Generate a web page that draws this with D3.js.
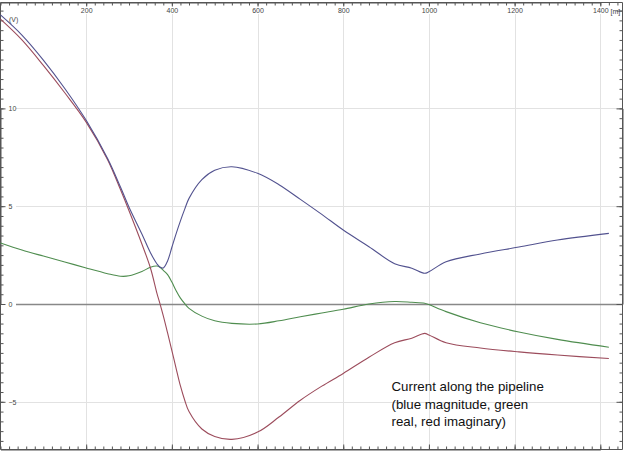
<!DOCTYPE html>
<html>
<head>
<meta charset="utf-8">
<script src="https://cdn.jsdelivr.net/npm/d3@7"></script>
<style>
  html, body { margin: 0; padding: 0; background: #fff; }
  svg { display: block; }
</style>
</head>
<body>
<svg id="chart" width="628" height="451"></svg>
<script>
// ---- data ----
const distance  = [0, 50, 100, 150, 200, 250, 280, 300, 330, 350, 365, 372, 380, 390, 400, 410, 420, 430, 440, 470, 500, 540, 600, 650, 700, 750, 800, 860, 920, 960, 990, 1000, 1040, 1120, 1210, 1300, 1420];
const magnitude = [14.78, 13.75, 12.47, 11.02, 9.39, 7.44, 5.98, 4.95, 3.58, 2.62, 2.06, 1.89, 1.84, 2.20, 2.90, 3.60, 4.25, 4.85, 5.40, 6.36, 6.84, 7.02, 6.68, 6.10, 5.35, 4.58, 3.78, 2.93, 2.06, 1.83, 1.57, 1.65, 2.16, 2.56, 2.91, 3.27, 3.61];
const realPart  = [3.12, 2.76, 2.45, 2.15, 1.84, 1.55, 1.42, 1.44, 1.66, 1.88, 1.94, 1.88, 1.72, 1.50, 1.12, 0.68, 0.30, 0.02, -0.22, -0.62, -0.86, -0.99, -1.02, -0.86, -0.65, -0.46, -0.27, 0.00, 0.13, 0.09, 0.04, -0.03, -0.39, -0.96, -1.43, -1.81, -2.21];
const imagPart  = [14.56, 13.50, 12.20, 10.80, 9.30, 7.38, 5.85, 4.77, 3.07, 1.84, 0.56, 0.03, -0.61, -1.48, -2.38, -3.30, -4.19, -4.92, -5.50, -6.39, -6.77, -6.92, -6.55, -5.78, -4.92, -4.20, -3.55, -2.72, -1.98, -1.75, -1.50, -1.58, -1.98, -2.25, -2.45, -2.61, -2.79];
const xMajorTicks = [200, 400, 600, 800, 1000, 1200, 1400];
const yMajorTicks = [15, 10, 5, 0, -5];
const yLabelTicks = [10, 5, 0, -5];
const xUnit = "[m]";
const yUnit = "(V)";
const noteLines = ["Current along the pipeline", "(blue magnitude, green", "real, red imaginary)"];

// ---- layout ----
const svg = d3.select("#chart");
const L = 0.5, R = 622.5, T = 2.5, B = 449.5;
const FONT = "Liberation Sans, Arial, sans-serif";
const x = d3.scaleLinear().domain([0, 1400]).range([0.5, 600.3]);
const y = d3.scaleLinear().domain([0, 10]).range([304, 108.4]);

const xMinor = d3.range(0, 1441, 20);
const yMinor = d3.range(-7, 15.01, 0.5);

// grid
const grid = svg.append("g");
grid.selectAll("line.vg").data(xMajorTicks).join("line")
  .attr("x1", d => Math.round(x(d)) + 0.5).attr("x2", d => Math.round(x(d)) + 0.5)
  .attr("y1", 14).attr("y2", B)
  .attr("stroke", "#e2e2e2").attr("stroke-width", 1);
grid.selectAll("line.hg").data([10, 5, -5]).join("line")
  .attr("x1", 16).attr("x2", R)
  .attr("y1", d => Math.round(y(d)) + 0.5).attr("y2", d => Math.round(y(d)) + 0.5)
  .attr("stroke", "#e2e2e2").attr("stroke-width", 1);
grid.append("line")
  .attr("x1", 16).attr("x2", R)
  .attr("y1", Math.round(y(0)) + 0.5).attr("y2", Math.round(y(0)) + 0.5)
  .attr("stroke", "#888").attr("stroke-width", 1.4);

// axes
function styleAxis(g) {
  g.select(".domain").attr("stroke", "#555");
  g.selectAll(".tick line").attr("stroke", "#555");
  g.selectAll("text").attr("fill", "#444").attr("font-family", FONT).attr("font-size", 7);
}
const fmt = d3.format("d");
// top
svg.append("g").attr("transform", `translate(0,${T})`)
  .call(d3.axisBottom(x).tickValues(xMinor).tickSize(3).tickFormat("").tickSizeOuter(0)).call(styleAxis);
svg.append("g").attr("transform", `translate(0,${T})`)
  .call(d3.axisBottom(x).tickValues(xMajorTicks).tickSize(4).tickPadding(2).tickFormat(fmt).tickSizeOuter(0)).call(styleAxis)
  .call(g => g.select(".domain").remove());
// bottom
svg.append("g").attr("transform", `translate(0,${B})`)
  .call(d3.axisTop(x).tickValues(xMinor).tickSize(3).tickFormat("").tickSizeOuter(0)).call(styleAxis);
svg.append("g").attr("transform", `translate(0,${B})`)
  .call(d3.axisTop(x).tickValues(xMajorTicks).tickSize(5).tickFormat("").tickSizeOuter(0)).call(styleAxis)
  .call(g => g.select(".domain").remove());
// left
svg.append("g").attr("transform", `translate(${L},0)`)
  .call(d3.axisRight(y).tickValues(yMinor).tickSize(3).tickFormat("").tickSizeOuter(0)).call(styleAxis);
svg.append("g").attr("transform", `translate(${L},0)`)
  .call(d3.axisRight(y).tickValues(yLabelTicks).tickSize(5).tickPadding(3).tickFormat(fmt).tickSizeOuter(0)).call(styleAxis)
  .call(g => g.select(".domain").remove());
// right
svg.append("g").attr("transform", `translate(${R},0)`)
  .call(d3.axisLeft(y).tickValues(yMinor).tickSize(3).tickFormat("").tickSizeOuter(0)).call(styleAxis);
svg.append("g").attr("transform", `translate(${R},0)`)
  .call(d3.axisLeft(y).tickValues(yMajorTicks).tickSize(6).tickFormat("").tickSizeOuter(0)).call(styleAxis)
  .call(g => g.select(".domain").remove());
// frame lines
[[L, T, R, T], [L, B, R, B], [L, T, L, B], [R, T, R, B]].forEach(([x1, y1, x2, y2]) =>
  svg.append("line").attr("x1", x1).attr("y1", y1).attr("x2", x2).attr("y2", y2).attr("stroke", "#555"));

// units
svg.append("text").attr("x", 610.5).attr("y", 14).text(xUnit)
  .attr("font-family", FONT).attr("font-size", 7).attr("fill", "#444");
svg.append("text").attr("x", 9).attr("y", 22).text(yUnit)
  .attr("font-family", FONT).attr("font-size", 7).attr("fill", "#444");

// series
const line = d3.line().x(d => x(d[0])).y(d => y(d[1])).curve(d3.curveCatmullRom.alpha(0.5));
const series = [
  { vals: realPart,  color: "#4f8d4f" },
  { vals: imagPart,  color: "#9c4c5c" },
  { vals: magnitude, color: "#52528f" }
];
svg.append("g").selectAll("path").data(series).join("path")
  .attr("d", s => line(distance.map((d, i) => [d, s.vals[i]])))
  .attr("fill", "none").attr("stroke", s => s.color).attr("stroke-width", 1.1);

// note
const note = svg.append("text").attr("font-family", FONT)
  .attr("font-size", 13.3).attr("fill", "#111");
note.selectAll("tspan").data(noteLines).join("tspan")
  .attr("x", 391.5).attr("y", (d, i) => 391 + i * 17.5).text(d => d);
</script>
</body>
</html>
